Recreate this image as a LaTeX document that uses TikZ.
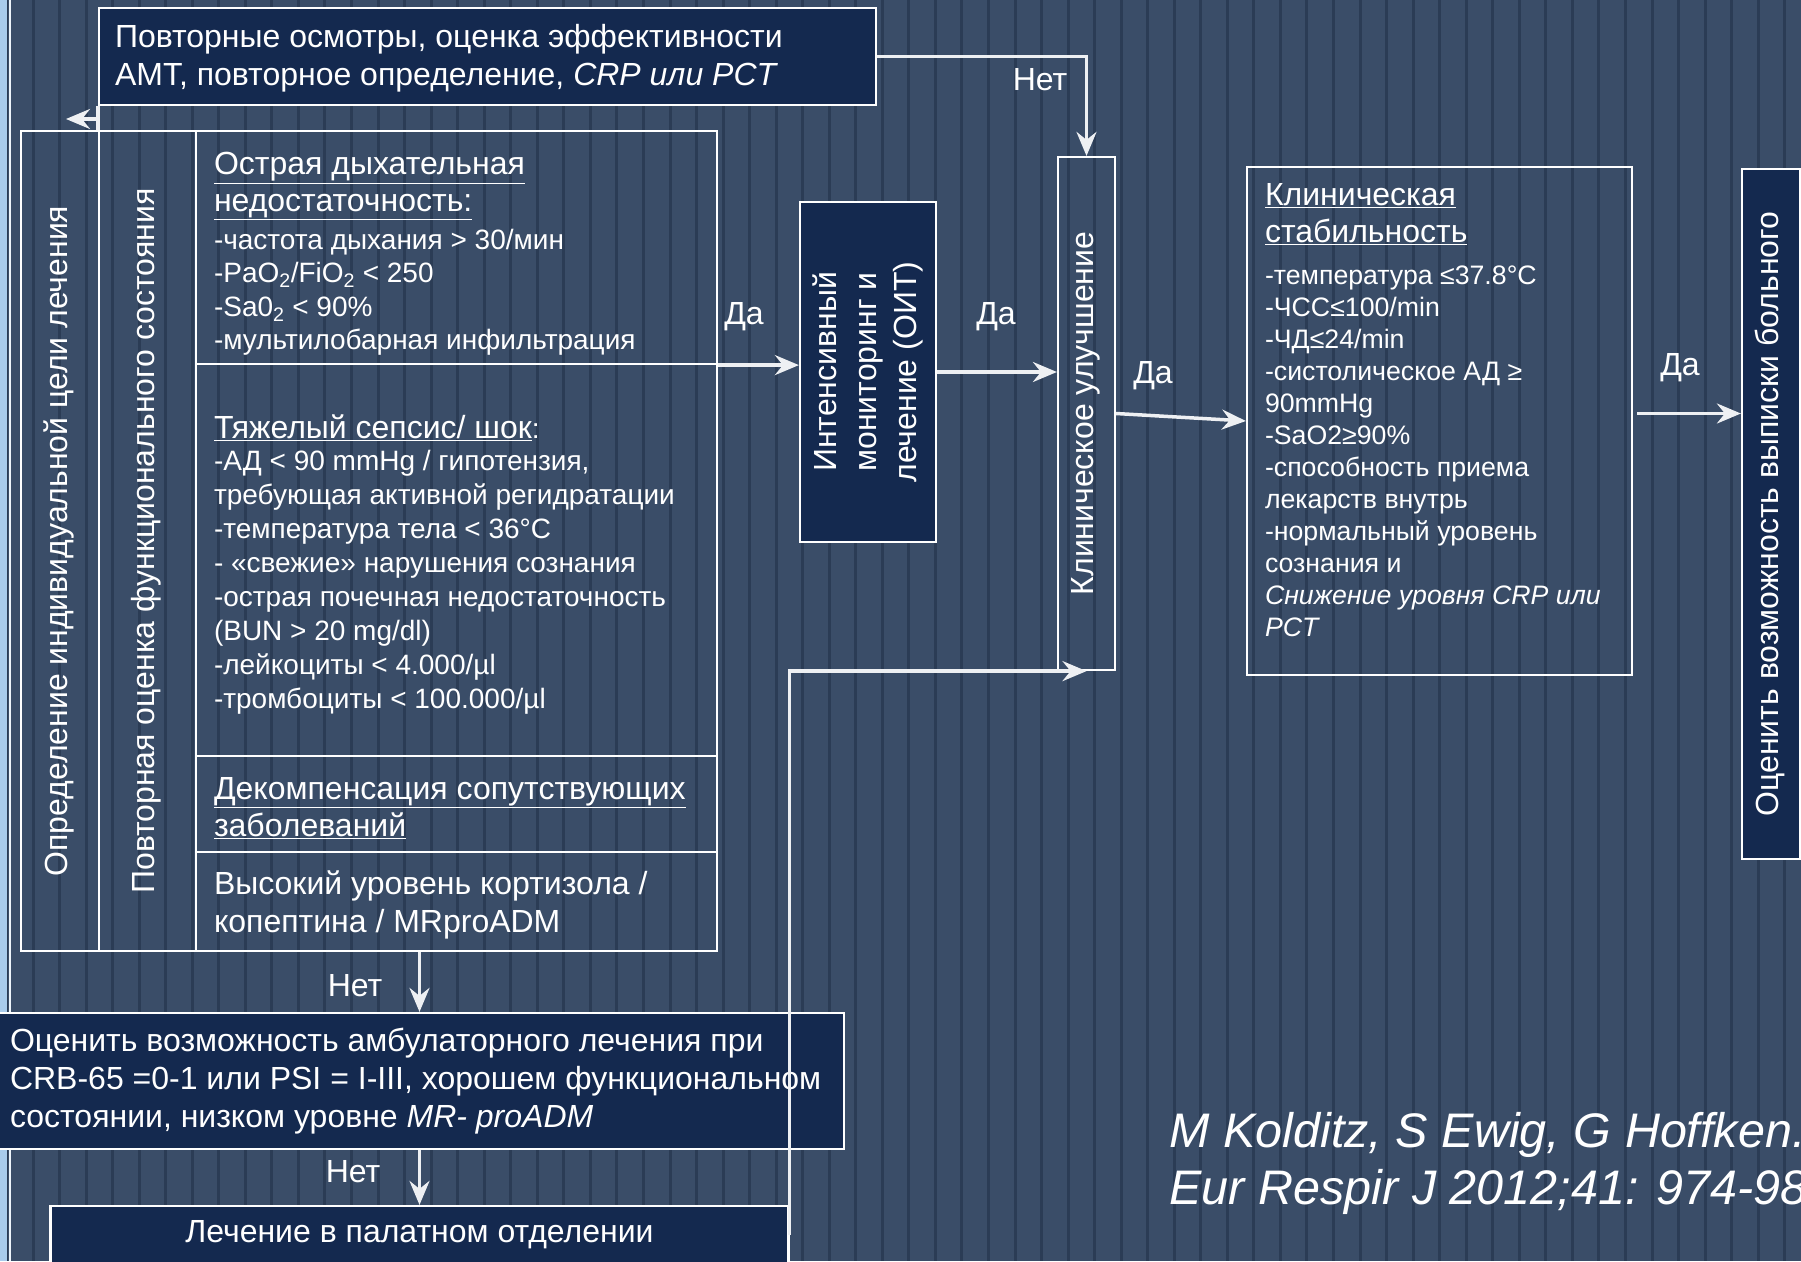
\documentclass[tikz,border=0pt]{standalone}
\usepackage{graphicx}
\usepackage{fontspec}
\setmainfont{Liberation Sans}
\usetikzlibrary{arrows.meta,positioning}

\definecolor{slate}{HTML}{3A4D68}
\definecolor{groove}{HTML}{2B3C55}
\definecolor{navy}{HTML}{14294F}
\definecolor{edgeblue}{HTML}{A9CCEC}
\definecolor{wire}{HTML}{EEF0F3}

\newcommand{\fs}[2]{\fontsize{#1}{#2}\selectfont}
% rotated text, #1 = extra room on its upper side
\newcommand{\uptext}[2][0pt]{\rotatebox{90}{\begin{tabular}{@{}c@{}}\rule{0pt}{\dimexpr0.7\baselineskip+#1\relax}#2\end{tabular}}}
\newcommand{\hd}[1]{{\fs{32}{37}\underline{#1}}}

\tikzset{
  frame/.style={draw=white, line width=2.2pt, text=white, inner sep=0pt},
  box/.style={frame, fill=navy},
  cell/.style={frame, minimum width=521, text width=485, align=flush left},
  arr/.style={draw=wire, line width=3.5pt, -{Stealth[length=24pt,width=20pt,inset=8pt]}},
  plain/.style={draw=wire, line width=3.5pt},
  lbl/.style={text=white, inner sep=0.75pt, font=\fs{32}{36}},
}

\begin{document}
\begin{tikzpicture}[x=1pt,y=1pt,yscale=-1]
\useasboundingbox (0,0) rectangle (1801,1261);

%Background
\fill[slate] (0,0) rectangle (1801,1261);
\foreach \k in {0,...,67} \fill[groove] ({5+26.54*\k},0) rectangle ++(3,1261);
\fill[edgeblue] (0,0) rectangle (7,1261);
\fill[white!80!edgeblue] (9,0) rectangle (11,1261);

%Shape: Rectangle [recheck]
\node [box, minimum width=777, minimum height=97, text width=745, align=flush left, font=\fs{32}{38}] (recheck) at (487.5,56.5)
  {\rule{0pt}{27pt}Повторные осмотры, оценка эффективности\\АМТ, повторное определение, \textit{CRP или PCT}};

%Shape: Rectangle [columns]
\node [frame, minimum width=78, minimum height=820, font=\fs{32}{36}] (goal) at (60,541)
  {\uptext[18pt]{Определение индивидуальной цели лечения}};
\node [frame, minimum width=97, minimum height=820, font=\fs{32}{36}] (reassess) at (147.5,541)
  {\uptext[14pt]{Повторная оценка функционального состояния}};

%Shape: Rectangle [cells]
\node [cell, minimum height=233, font=\fs{28}{33.3}] (resp) at (456.5,247.5)
  {\rule{0pt}{35pt}\hd{Острая дыхательная}\\[3.5pt]
   \hd{недостаточность:}\\[4.5pt]
   -частота дыхания > 30/мин\\
   -PaO\textsubscript{2}/FiO\textsubscript{2} < 250\\
   -Sa0\textsubscript{2} < 90\%\\
   -мультилобарная инфильтрация};
\node [cell, minimum height=392, font=\fs{28}{34}] (sepsis) at (456.5,560)
  {\rule{0pt}{33pt}\hd{Тяжелый сепсис/ шок}:\\[-2.3pt]
   -АД < 90 mmHg / гипотензия,\\
   требующая активной регидратации\\
   -температура тела < 36°C\\
   - «свежие» нарушения сознания\\
   -острая почечная недостаточность\\
   (BUN > 20 mg/dl)\\
   -лейкоциты < 4.000/µl\\
   -тромбоциты < 100.000/µl};
\node [cell, minimum height=96, font=\fs{32}{37}] (decomp) at (456.5,804)
  {\rule{0pt}{30pt}\underline{Декомпенсация сопутствующих}\\\underline{заболеваний}};
\node [cell, minimum height=99, font=\fs{32}{38}] (hormone) at (456.5,901.5)
  {\rule{0pt}{30pt}Высокий уровень кортизола /\\копептина / MRproADM};

%Shape: Rectangle [icu]
\node [box, minimum width=136, minimum height=340, font=\fs{32}{40}] (icu) at (868,372)
  {\uptext[3pt]{Интенсивный\\мониторинг и\\лечение (ОИТ)}};

%Shape: Rectangle [better]
\node [frame, minimum width=57, minimum height=513, font=\fs{32}{36}] (better) at (1086.5,413.5)
  {\uptext[7pt]{Клиническое улучшение}};

%Shape: Rectangle [stable]
\node [frame, minimum width=385, minimum height=508, text width=349, align=flush left, font=\fs{26.7}{32}] (stable) at (1439.5,421)
  {\hd{Клиническая}\\[5pt]
   \hd{стабильность}\\[10pt]
   -температура ≤37.8°C\\
   -ЧСС≤100/min\\
   -ЧД≤24/min\\
   -систолическое АД ≥\\
   90mmHg\\
   -SaO2≥90\%\\
   -способность приема\\
   лекарств внутрь\\
   -нормальный уровень\\
   сознания и\\
   \textit{Снижение уровня CRP или}\\
   \textit{PCT}\\[-9pt]
   \mbox{}};

%Shape: Rectangle [discharge]
\node [box, minimum width=58, minimum height=690, font=\fs{32}{36}] (discharge) at (1771,514)
  {\uptext[7pt]{Оценить возможность выписки больного}};

%Shape: Rectangle [outpat]
\node [box, minimum width=849, minimum height=136, text width=819, align=flush left, font=\fs{32}{38}] (outpat) at (419.5,1081)
  {Оценить возможность амбулаторного лечения при\\
   CRB-65 =0-1 или PSI = I-III, хорошем функциональном\\
   состоянии, низком уровне \textit{MR- proADM}};

%Shape: Rectangle [ward]
\node [box, minimum width=738, minimum height=58, font=\fs{32}{38}] (ward) at (419.5,1235)
  {Лечение в палатном отделении};

% Text Node
\node [anchor=west, text=white, align=flush left, font=\fs{48.5}{57}\itshape] (cite) at (1166,1163)
  {M Kolditz, S Ewig, G Hoffken.\\Eur Respir J 2012;41: 974-984};

%Connectors
\coordinate (loop) at (99,119);
\coordinate (loopend) at (66,119);
\draw [plain] (recheck.south west) -- (reassess.north west);
\draw [arr] (loop) -- (loopend);

\draw [arr] (recheck.east) -| (better.north);
\draw [arr] (resp.south east) -- (resp.south east -| icu.west);
\draw [arr] (icu.east) -- (icu.east -| better.west);
\draw [arr] (better.east) -- (stable.west);
\draw [arr] ([xshift=4pt]stable.east |- better.east) -- (discharge.west |- better.east);
\draw [arr] (outpat.north |- reassess.south) -- (outpat.north);
\draw [arr] (outpat.south) -- (ward.north);
\draw [arr] (ward.east) |- (better.south);

% Text Node
\node [lbl] (no1) at (1040,80) {Нет};
\node [lbl] (yes1) at (744,317) {Да};
\node [lbl] (yes2) at (996,317) {Да};
\node [lbl] (yes3) at (1153,376) {Да};
\node [lbl] (yes4) at (1680,368) {Да};
\node [lbl] (no2) at (355,986) {Нет};
\node [lbl] (no3) at (353,1172) {Нет};

\end{tikzpicture}
\end{document}
